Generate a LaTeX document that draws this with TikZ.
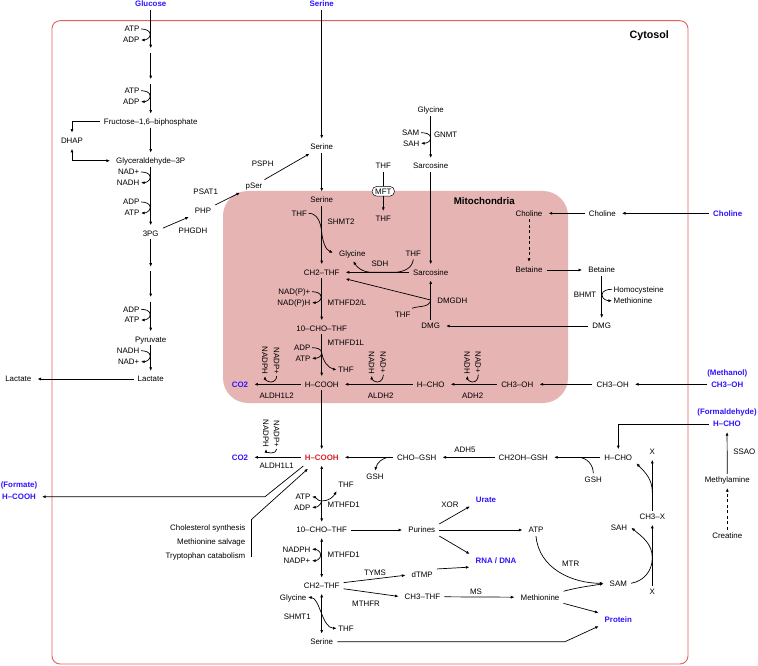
\documentclass[tikz,border=0pt]{standalone}
\usepackage{fontspec}
\setmainfont{Liberation Sans}
\usetikzlibrary{arrows.meta}
\usetikzlibrary{calc}
\definecolor{srcblue}{RGB}{45,20,255}
\definecolor{hred}{RGB}{215,35,40}
\definecolor{cytoline}{RGB}{228,95,95}
\definecolor{mitofill}{RGB}{231,180,180}

\begin{document}
\begin{tikzpicture}[
      x=1pt, y=1pt,
      >={Latex[length=3.6pt,width=3pt]},
      met/.style={font=\fontsize{7.9}{9}\selectfont, inner xsep=4pt, inner ysep=3pt, text height=5.7pt, text depth=0pt},
      src/.style={met, font=\fontsize{7.9}{9}\selectfont\bfseries, text=srcblue},
      blank/.style={inner sep=0pt, minimum size=2pt},
      cof/.style={met, inner xsep=1.5pt},
      enz/.style={met, inner xsep=0.5pt},
      cofv/.style={cof, rotate=-90, anchor=west},
      flux/.style={->, line width=0.7pt, shorten >=2pt},
      rev/.style={<->, line width=0.7pt, shorten >=2pt, shorten <=2pt},
      curl/.style={->, line width=0.7pt},
      plain/.style={line width=0.7pt},
    ]
    \fill[white] (0,0) rectangle (758,-666);
    \useasboundingbox (0,0) rectangle (758,-666);
    % Draw the compartments.
    \draw[cytoline, line width=0.9pt, rounded corners=8pt] (52,-20.7) rectangle (688,-664);
    \fill[mitofill, rounded corners=25pt] (223,-191) rectangle (568,-403);
    \node[font=\fontsize{10.7}{12}\selectfont\bfseries] (cytosol) at (649.3,-35.7) {Cytosol};
    \node[font=\fontsize{9.7}{11}\selectfont\bfseries] (mito) at (484.3,-201) {Mitochondria};

    % Glycolysis.
    \node[src] (glc) at (150.7,-4) {Glucose};
    \node[blank] (g_a) at (150.7,-51.5) {};
    \node[blank] (g_b) at (150.7,-82.5) {};
    \node[met] (fbp) at (150.7,-121.7) {Fructose–1,6–biphosphate};
    \node[met] (dhap) at (72,-140.7) {DHAP};
    \node[met] (gap) at (150.7,-160.7) {Glyceraldehyde–3P};
    \node[met] (pg3) at (150.7,-233.3) {3PG};
    \node[blank] (g_c) at (150.7,-270) {};
    \node[blank] (g_d) at (150.7,-300.3) {};
    \node[met] (pyr) at (150.7,-339.3) {Pyruvate};
    \node[met] (lac) at (150.7,-379) {Lactate};
    \node[met] (lac_out) at (18.3,-379) {Lactate};
    \node[cof,anchor=east] (atp_1) at (141,-29) {ATP};
    \node[cof,anchor=east] (adp_1) at (141,-40) {ADP};
    \node[cof,anchor=east] (atp_2) at (141,-90.7) {ATP};
    \node[cof,anchor=east] (adp_2) at (141,-101.7) {ADP};
    \node[cof,anchor=east] (nad_1) at (141,-172) {NAD+};
    \node[cof,anchor=east] (nadh_1) at (141,-182.7) {NADH};
    \node[cof,anchor=east] (adp_3) at (141,-202) {ADP};
    \node[cof,anchor=east] (atp_3) at (141,-213) {ATP};
    \node[cof,anchor=east] (adp_4) at (141,-309.3) {ADP};
    \node[cof,anchor=east] (atp_4) at (141,-320) {ATP};
    \node[cof,anchor=east] (nadh_2) at (141,-350.7) {NADH};
    \node[cof,anchor=east] (nad_2) at (141,-361.7) {NAD+};
    \draw[flux] (glc) -- (g_a);
    \draw[flux] (g_a) -- (g_b);
    \draw[flux] (g_b) -- (fbp);
    \draw[flux] (fbp) -- (gap);
    \draw[flux] (fbp.west) -| (dhap);
    \draw[rev] (dhap) |- (gap);
    \draw[flux] (gap) -- (pg3);
    \draw[flux] (pg3) -- (g_c);
    \draw[flux] (g_c) -- (g_d);
    \draw[flux] (g_d) -- (pyr);
    \draw[flux] (pyr) -- (lac);
    \draw[flux] (lac) -- (lac_out);
    \draw[curl] (atp_1.east) to[out=0,in=90] (150.2,-34.5) to[out=-90,in=0] (adp_1.east);
    \draw[curl] (atp_2.east) to[out=0,in=90] (150.2,-96.2) to[out=-90,in=0] (adp_2.east);
    \draw[curl] (nad_1.east) to[out=0,in=90] (150.2,-177.3) to[out=-90,in=0] (nadh_1.east);
    \draw[curl] (adp_3.east) to[out=0,in=90] (150.2,-207.5) to[out=-90,in=0] (atp_3.east);
    \draw[curl] (adp_4.east) to[out=0,in=90] (150.2,-314.6) to[out=-90,in=0] (atp_4.east);
    \draw[curl] (nadh_2.east) to[out=0,in=90] (150.2,-356.2) to[out=-90,in=0] (nad_2.east);

    % Serine synthesis.
    \node[met] (php) at (203,-211) {PHP};
    \node[met] (pser) at (254,-185.7) {pSer};
    \node[src] (ser_in) at (321.7,-4) {Serine};
    \node[met] (ser_c) at (321.7,-146.7) {Serine};
    \node[enz] (phgdh) at (193,-231) {PHGDH};
    \node[enz] (psat1) at (205.7,-191.7) {PSAT1};
    \node[enz] (psph) at (262.7,-163.3) {PSPH};
    \draw[flux] (pg3) -- (php);
    \draw[flux] (php) -- (pser);
    \draw[flux] (pser) -- (ser_c);
    \draw[flux] (ser_in) -- (ser_c);

    % Mitochondrial one-carbon pathway.
    \node[met] (ser_m) at (321.7,-199.7) {Serine};
    \node[cof] (thf_m1) at (299.3,-213.3) {THF};
    \node[enz,anchor=west] (shmt2) at (327,-221.7) {SHMT2};
    \node[met] (gly_m) at (352.3,-253.3) {Glycine};
    \node[met] (ch2_m) at (321.7,-272.3) {CH2–THF};
    \node[met] (sarc_m) at (430.7,-272.3) {Sarcosine};
    \node[cof] (thf_m2) at (413.3,-253.3) {THF};
    \node[enz] (sdh) at (380,-264) {SDH};
    \node[cof,anchor=east] (nadp_m) at (312,-291.7) {NAD(P)+};
    \node[cof,anchor=east] (nadph_m) at (312,-302.7) {NAD(P)H};
    \node[enz,anchor=west] (mthfd2) at (327,-302.7) {MTHFD2/L};
    \node[met] (cho_m) at (321.7,-328.3) {10–CHO–THF};
    \node[cof,anchor=east] (adp_m) at (312,-347.7) {ADP};
    \node[cof,anchor=east] (atp_m) at (312,-358.3) {ATP};
    \node[enz,anchor=west] (mthfd1l) at (327,-342.7) {MTHFD1L};
    \node[cof] (thf_m3) at (346,-370) {THF};
    \node[met] (fmt_m) at (321.7,-384.3) {H–COOH};
    \node[src] (co2_m) at (240,-384.3) {CO2};
    \node[enz] (aldh1l2) at (276.7,-395.7) {ALDH1L2};
    \node[cofv] (nadph_m2) at (265,-345) {NADPH};
    \node[cofv] (nadp_m2) at (276.7,-346) {NADP+};
    \node[met] (hcho_m) at (430.7,-384.3) {H–CHO};
    \node[enz] (aldh2) at (380.7,-395.7) {ALDH2};
    \node[cofv] (nadh_m) at (371.7,-350) {NADH};
    \node[cofv] (nad_m) at (383.3,-350) {NAD+};
    \node[met] (meoh_m) at (517.3,-384.3) {CH3–OH};
    \node[enz] (adh2) at (472.7,-395.7) {ADH2};
    \node[cofv] (nadh_m3) at (467.3,-350) {NADH};
    \node[cofv] (nad_m3) at (478.3,-350) {NAD+};
    \node[met] (dmg_m) at (430.7,-326) {DMG};
    \node[cof] (thf_m4) at (402.7,-314.3) {THF};
    \node[enz,anchor=west] (dmgdh) at (436.7,-300.7) {DMGDH};
    \coordinate (dmg_jn) at (430.7,-300);
    \node[met] (cho_mi) at (529,-213.3) {Choline};
    \node[met] (bet_m) at (529,-270) {Betaine};
    \node[cof] (thf_t1) at (383.3,-165.7) {THF};
    \node[met, draw, line width=0.5pt, fill=white, rounded corners=4.5pt, inner xsep=3pt, inner ysep=2pt] (mft) at (383.3,-191.3) {MFT};
    \node[cof] (thf_t2) at (383.3,-219) {THF};
    \draw[flux] (ser_c) -- (ser_m);
    \draw[flux] (ser_m) -- (ch2_m);
    \draw[flux] (thf_m1.east) to[out=0,in=95] (321.7,-232) to[out=-85,in=160] (gly_m.west);
    \draw[flux] (sarc_m) -- (ch2_m);
    \draw[flux] (thf_m2.south) to[out=-95,in=0] (394,-272.3) -- (372,-272.3) to[out=180,in=-60] (gly_m.south);
    \draw[flux] (ch2_m) -- (cho_m);
    \draw[curl] (nadp_m.east) to[out=0,in=90] (321.2,-297.2) to[out=-90,in=0] (nadph_m.east);
    \draw[flux] (cho_m) -- (fmt_m);
    \coordinate (j_fd1l) at (321.7,-353);
    \draw[curl] (adp_m.east) to[out=0,in=90] (j_fd1l) to[out=-90,in=0] (atp_m.east);
    \draw[curl] (j_fd1l) to[out=-80,in=165] (thf_m3.west);
    \draw[flux] (fmt_m) -- (co2_m);
    \draw[curl] (nadp_m2.east) to[out=-90,in=0] (271,-382) to[out=180,in=-90] (nadph_m2.east);
    \draw[flux] (hcho_m) -- (fmt_m);
    \draw[curl] (nad_m.east) to[out=-90,in=0] (377.5,-382) to[out=180,in=-90] (nadh_m.east);
    \draw[flux] (meoh_m) -- (hcho_m);
    \draw[curl] (nad_m3.east) to[out=-90,in=0] (472.8,-382) to[out=180,in=-90] (nadh_m3.east);
    \draw[flux] (dmg_m) -- (sarc_m);
    \draw[flux] (thf_m4.north east) to[out=20,in=-100] (dmg_jn) -- (ch2_m.south east);
    \draw[flux, dash pattern=on 3pt off 2.5pt] (cho_mi) -- (bet_m);
    \draw[plain] (thf_t1) -- (mft);
    \draw[flux] (mft) -- (thf_t2);

    % Glycine, choline and methanol entry.
    \node[met] (gly_c) at (430.7,-110) {Glycine};
    \node[cof,anchor=east] (sam_g) at (421,-132.7) {SAM};
    \node[cof,anchor=east] (sah_g) at (421,-143.3) {SAH};
    \node[enz,anchor=west] (gnmt) at (433.3,-135) {GNMT};
    \node[met] (sarc_c) at (430.7,-166) {Sarcosine};
    \node[src] (cho_in) at (727.7,-213.3) {Choline};
    \node[met] (cho_c) at (602.3,-213.3) {Choline};
    \node[met] (bet_c) at (601.7,-270) {Betaine};
    \node[cof,anchor=west] (hcy) at (612,-289.3) {Homocysteine};
    \node[cof,anchor=west] (met_b) at (612,-300.7) {Methionine};
    \node[enz,anchor=east] (bhmt) at (597,-295) {BHMT};
    \node[met] (dmg_c) at (601.7,-326) {DMG};
    \node[met] (meoh_c) at (612.7,-384.3) {CH3–OH};
    \node[src, label={[src]above:(Methanol)}] (meoh_in) at (727.3,-384.3) {CH3–OH};
    \draw[flux] (gly_c) -- (sarc_c);
    \draw[curl] (sam_g.east) to[out=0,in=90] (430.7,-138) to[out=-90,in=0] (sah_g.east);
    \draw[flux] (sarc_c) -- (sarc_m);
    \draw[flux] (cho_in) -- (cho_c);
    \draw[flux] (cho_c) -- (cho_mi);
    \draw[flux] (bet_m) -- (bet_c);
    \draw[flux] (bet_c) -- (dmg_c);
    \draw[curl] (hcy.west) to[out=180,in=90] (602,-295) to[out=-90,in=180] (met_b.west);
    \draw[flux] (dmg_c) -- (dmg_m);
    \draw[flux] (meoh_in) -- (meoh_c);
    \draw[flux] (meoh_c) -- (meoh_m);

    % Cytosolic formate and one-carbon pathway.
    \node[src, text=hred] (fmt_c) at (321.7,-457.3) {H–COOH};
    \node[src] (co2_c) at (240,-457.3) {CO2};
    \node[enz] (aldh1l1) at (276.7,-466) {ALDH1L1};
    \node[cofv] (nadph_c) at (266,-418) {NADPH};
    \node[cofv] (nadp_c) at (276.7,-419) {NADP+};
    \node[met] (chogsh) at (416.7,-457.3) {CHO–GSH};
    \node[cof] (gsh_1) at (375,-476.7) {GSH};
    \node[enz] (adh5) at (465,-449.3) {ADH5};
    \node[met] (ch2ohgsh) at (523.3,-457.3) {CH2OH–GSH};
    \node[met] (hcho_c) at (618.3,-457.3) {H–CHO};
    \node[cof] (gsh_2) at (593.3,-479.3) {GSH};
    \node[src, label={[src]above:(Formaldehyde)}] (fald_in) at (727,-424) {H–CHO};
    \node[met] (mamine) at (727.3,-480) {Methylamine};
    \node[enz] (ssao) at (744.3,-451.7) {SSAO};
    \node[met] (creat) at (727.3,-536) {Creatine};
    \node[met] (x_top) at (652.3,-451.7) {X};
    \node[met] (ch3x) at (652.3,-516.7) {CH3–X};
    \node[met] (sah) at (619,-527.7) {SAH};
    \node[met] (x_bot) at (652.3,-591.7) {X};
    \node[met] (sam) at (618.3,-583.3) {SAM};
    \node[met] (atp_c) at (536,-530) {ATP};
    \node[enz] (mtr) at (570.7,-564) {MTR};
    \node[met] (meth) at (540,-597.3) {Methionine};
    \node[src] (protein) at (618.3,-619.3) {Protein};
    \node[met] (purines) at (421.7,-530) {Purines};
    \node[src] (urate) at (486,-499.3) {Urate};
    \node[enz] (xor) at (450,-504.3) {XOR};
    \node[src] (rnadna) at (496,-561) {RNA / DNA};
    \node[met] (dtmp) at (422.2,-575) {dTMP};
    \node[enz] (tyms) at (375,-572.3) {TYMS};
    \node[met] (ch3thf) at (422.5,-596.7) {CH3–THF};
    \node[enz] (ms) at (476,-591.7) {MS};
    \node[enz] (mthfr) at (366,-603.3) {MTHFR};
    \node[met] (cho_c10) at (321.7,-530) {10–CHO–THF};
    \node[met] (ch2_c) at (321.7,-585.7) {CH2–THF};
    \node[met] (ser_c2) at (321.7,-641.7) {Serine};
    \node[cof,anchor=east] (atp_b) at (312,-496.7) {ATP};
    \node[cof,anchor=east] (adp_b) at (312,-507.3) {ADP};
    \node[cof] (thf_b1) at (346,-485) {THF};
    \node[enz,anchor=west] (mthfd1a) at (327,-505) {MTHFD1};
    \node[cof,anchor=east] (nadph_b) at (312,-549.3) {NADPH};
    \node[cof,anchor=east] (nadp_b) at (312,-560.7) {NADP+};
    \node[enz,anchor=west] (mthfd1b) at (327,-555) {MTHFD1};
    \node[cof,anchor=east] (gly_b) at (308,-597.3) {Glycine};
    \node[cof] (thf_b2) at (346,-628.3) {THF};
    \node[enz] (shmt1) at (297.3,-616.7) {SHMT1};
    \node[src, label={[src]above:(Formate)}] (fmt_out) at (19,-496.7) {H–COOH};
    \node[cof,anchor=east] (chol) at (247,-527.3) {Cholesterol synthesis};
    \node[cof,anchor=east] (msalv) at (247,-541.7) {Methionine salvage};
    \node[cof,anchor=east] (trp) at (247,-555.3) {Tryptophan catabolism};
    \coordinate (fmt_exit) at (303.3,-466);
    \coordinate (fmt_bend) at (265,-496.7);
    \coordinate (fmt_entry) at (309.5,-467.3);
    \coordinate (br_top) at (251.7,-519.3);
    \coordinate (br_bot) at (251.7,-557.3);
    \draw[flux] (fmt_m) -- (fmt_c);
    \draw[flux] (fmt_c) -- (co2_c);
    \draw[curl] (nadp_c.east) to[out=-90,in=0] (271.3,-453) to[out=180,in=-90] (nadph_c.east);
    \draw[flux] (fmt_exit) -- (fmt_bend) -- (fmt_out);
    \draw[plain] (br_bot) -- (br_top);
    \draw[flux] (br_top) -- (fmt_entry);
    \draw[flux] (chogsh) -- (fmt_c);
    \coordinate (j_gsh1) at (390,-457.3);
    \draw[curl] (j_gsh1) to[out=180,in=75] (gsh_1.north);
    \draw[flux] (ch2ohgsh) -- (chogsh);
    \coordinate (j_gsh2) at (578,-457.3);
    \draw[plain] (gsh_2.north) to[out=90,in=0] (j_gsh2);
    \draw[flux] (hcho_c) -- (ch2ohgsh);
    \draw[flux] (fald_in) -| (hcho_c);
    \draw[flux] (mamine) -- (fald_in);
    \draw[flux, dash pattern=on 3pt off 2.5pt] (creat) -- (mamine);
    \draw[flux] (ch3x) -- (x_top);
    \coordinate (j_x1) at (652.3,-492);
    \draw[curl] (j_x1) to[out=90,in=-45] (hcho_c.south east);
    \draw[flux] (x_bot) -- (ch3x);
    \coordinate (j_x2) at (652.3,-558);
    \draw[curl] (sam.east) to[out=10,in=-90] (j_x2) to[out=90,in=-40] (sah.east);
    \draw[flux] (purines) -- (atp_c);
    \draw[flux] (atp_c.south) to[out=-85,in=180] (sam.west);
    \draw[flux] (meth.north east) to[out=15,in=190] (sam.west);
    \draw[flux] (meth.south east) -- (protein.north west);
    \coordinate (ser_bend) at (565,-641.7);
    \draw[flux] (ser_c2) -- (ser_bend) -- (protein.south west);
    \draw[flux] (ch3thf) -- (meth);
    \draw[flux] (purines.north east) -- (urate.south west);
    \draw[flux] (purines.south east) -- (rnadna.north west);
    \draw[flux] (dtmp.north east) -- (rnadna.south west);
    \draw[flux] (cho_c10) -- (purines);
    \draw[flux] (ch2_c.8) -- (dtmp.west);
    \draw[flux] (ch2_c.-8) -- (ch3thf.west);
    \draw[rev] (fmt_c) -- (cho_c10);
    \draw[rev] (cho_c10) -- (ch2_c);
    \draw[rev] (ch2_c) -- (ser_c2);
    \coordinate (j_fd1a) at (321.7,-501);
    \draw[curl,<->] (atp_b.east) to[out=-10,in=180] (j_fd1a) to[out=0,in=-120] (thf_b1.south west);
    \draw[curl] (j_fd1a) to[out=-100,in=0] (adp_b.east);
    \coordinate (j_fd1b) at (320.7,-555);
    \draw[curl,<->] (nadph_b.east) to[out=0,in=90] (j_fd1b) to[out=-90,in=0] (nadp_b.east);
    \draw[curl,<->] (gly_b.east) .. controls (320,-598) and (322,-628) .. (thf_b2.west);
\end{tikzpicture}
\end{document}
